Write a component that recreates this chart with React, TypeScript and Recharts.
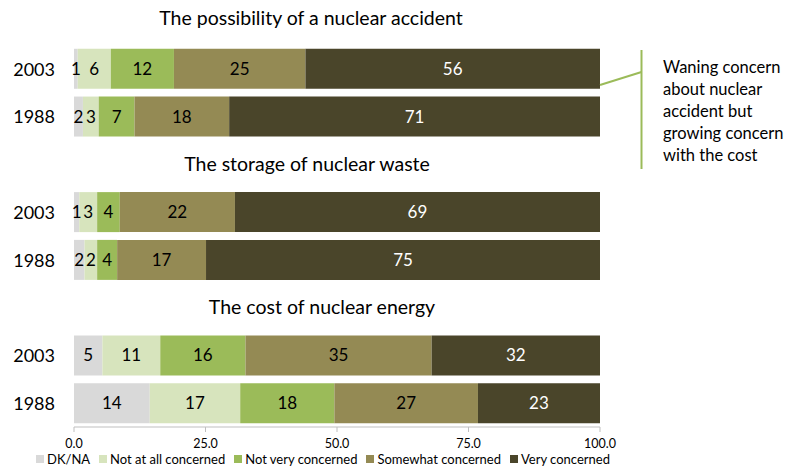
import { BarChart, Bar, XAxis, YAxis, Legend, LabelList } from 'recharts';

const titles = ['The possibility of a nuclear accident', 'The storage of nuclear waste', 'The cost of nuclear energy'];
const years = ['2003', '1988'];

// one value per bar, top to bottom: accident 2003/1988, waste 2003/1988, cost 2003/1988
const dkna = [0.7, 1.7, 1.0, 2.0, 5.4, 14.4];
const notAtAll = [6.3, 3.0, 3.4, 2.4, 11.0, 17.2];
const notVery = [12.0, 6.8, 4.3, 3.8, 16.2, 17.9];
const somewhat = [25.0, 18.0, 21.9, 16.9, 35.4, 27.3];
const veryConcerned = [56.0, 70.5, 69.4, 74.9, 32.0, 23.2];

const xTicks = [0, 25, 50, 75, 100];

const series = [
  { key: 'dkna', name: 'DK/NA', color: '#d9d9d9', values: dkna, text: '#000' },
  { key: 'notAtAll', name: 'Not at all concerned', color: '#d7e4bd', values: notAtAll, text: '#000' },
  { key: 'notVery', name: 'Not very concerned', color: '#9bbb59', values: notVery, text: '#000' },
  { key: 'somewhat', name: 'Somewhat concerned', color: '#948a54', values: somewhat, text: '#000' },
  { key: 'very', name: 'Very concerned', color: '#4a452a', values: veryConcerned, text: '#fff' },
];

const note = ['Waning concern', 'about nuclear', 'accident but', 'growing concern', 'with the cost'];

// a title row, then one row per year, for every question
const rows: any[] = [];
titles.forEach((t, g) => {
  rows.push({ key: 't' + g, title: t, group: g });
  years.forEach((yr, i) => {
    const idx = g * 2 + i;
    const row: any = { key: 'r' + idx, year: yr };
    series.forEach((s) => (row[s.key] = s.values[idx]));
    rows.push(row);
  });
});
const byKey: Record<string, any> = {};
rows.forEach((r) => (byKey[r.key] = r));

const FONT = 'Lato, "Open Sans", sans-serif';
const TITLE_CENTER = [311, 307, 322];
const TITLE_DY = [-3, -1, -1];

function RowTick({ y, payload }: any) {
  const row = byKey[payload.value];
  if (!row) return null;
  if (row.title) {
    return (
      <text x={TITLE_CENTER[row.group]} y={y} dy={TITLE_DY[row.group]} textAnchor="middle" dominantBaseline="central"
        fontSize={19.5} fill="#000" fontFamily={FONT}>
        {row.title}
      </text>
    );
  }
  return (
    <text x={55} y={y} textAnchor="end" dominantBaseline="central" fontSize={18} fill="#000" fontFamily={FONT}>
      {row.year}
    </text>
  );
}

function LegendBox() {
  return (
    <div style={{ display: 'flex', alignItems: 'center', fontFamily: FONT, fontSize: 13, color: '#000', gap: 9 }}>
      {series.map((s) => (
        <div key={s.key} style={{ display: 'flex', alignItems: 'center' }}>
          <span style={{ width: 8, height: 8, background: s.color, display: 'inline-block', marginRight: 3 }} />
          <span>{s.name}</span>
        </div>
      ))}
    </div>
  );
}

export default function App() {
  return (
    <div style={{ position: 'absolute', left: 0, top: 0, width: 797, height: 468, background: '#fff' }}>
      <BarChart width={797} height={468} data={rows} layout="vertical" barSize={40}
        margin={{ top: -3, right: 197, left: 0, bottom: 0 }}>
        <XAxis type="number" domain={[0, 100]} ticks={xTicks} tickFormatter={(v) => v.toFixed(1)}
          axisLine={{ stroke: '#bfbfbf' }} tickLine={{ stroke: '#bfbfbf' }} tickSize={5} tickMargin={7}
          tick={{ fontSize: 12.5, fill: '#000', fontFamily: FONT }} height={24} />
        <YAxis type="category" dataKey="key" width={74} axisLine={false} tickLine={false} tick={<RowTick />} interval={0} />
        <Legend verticalAlign="bottom" height={17} content={<LegendBox />}
          wrapperStyle={{ left: 36, width: 600 }} />
        {series.map((s) => (
          <Bar key={s.key} dataKey={s.key} name={s.name} stackId="a" fill={s.color} isAnimationActive={false}>
            <LabelList dataKey={s.key} position="center" fill={s.text} fontSize={17} fontFamily={FONT}
              formatter={(v: any) => (v == null ? '' : Math.round(v))} />
          </Bar>
        ))}
      </BarChart>
      <svg width={797} height={468} style={{ position: 'absolute', left: 0, top: 0, pointerEvents: 'none' }}>
        <line x1={600} y1={85} x2={641.5} y2={72} stroke="#9bbb59" strokeWidth={2} />
        <line x1={641.5} y1={50} x2={641.5} y2={169} stroke="#9bbb59" strokeWidth={2} />
        {note.map((l, i) => (
          <text key={i} x={663} y={67 + i * 22} dominantBaseline="central" fontSize={16.5} fill="#000" fontFamily={FONT}>
            {l}
          </text>
        ))}
      </svg>
    </div>
  );
}
